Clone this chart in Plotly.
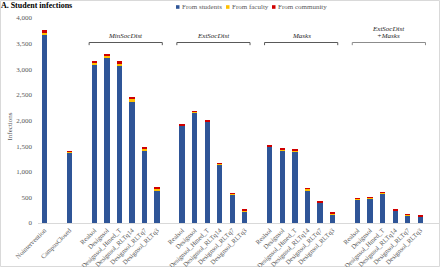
import plotly.graph_objects as go

# ---------------- data ----------------
singles = ["Nointervention", "CampusClosed"]
single_students = [3660, 1370]
single_faculty = [40, 10]
single_community = [60, 25]

policies = ["Realsol", "Designsol", "Designsol_Hmed_T",
            "Designsol_RLTq14", "Designsol_RLTq7", "Designsol_RLTq3"]
groups = ["MinSocDist", "ExtSocDist", "Masks", "ExtSocDist<br>+Masks"]

group_students = [
    [3080, 3220, 3060, 2370, 1405, 630],
    [1890, 2150, 1965, 1125, 545, 220],
    [1475, 1410, 1390, 630, 385, 155],
    [455, 470, 570, 228, 143, 112],
]
group_faculty = [
    [40, 45, 50, 40, 35, 30],
    [10, 15, 15, 20, 15, 15],
    [15, 15, 20, 25, 15, 20],
    [10, 10, 10, 10, 10, 10],
]
group_community = [
    [50, 40, 50, 45, 40, 45],
    [30, 20, 25, 30, 25, 30],
    [30, 30, 25, 35, 30, 40],
    [30, 30, 25, 30, 29, 35],
]

y_ticks = [0, 500, 1000, 1500, 2000, 2500, 3000, 3500, 4000]

# ---------------- build slots (gap slot between blocks) ----------------
xs, labels, stu, fac, com = [], [], [], [], []
slot = 0
for i, name in enumerate(singles):
    xs.append(slot); labels.append(name)
    stu.append(single_students[i]); fac.append(single_faculty[i]); com.append(single_community[i])
    slot += 2
group_spans = []
for g in range(len(groups)):
    start = slot
    for p, pol in enumerate(policies):
        xs.append(slot); labels.append(pol)
        stu.append(group_students[g][p]); fac.append(group_faculty[g][p]); com.append(group_community[g][p])
        slot += 1
    group_spans.append((start, slot - 1))
    slot += 1
n_slots = slot - 1

C_STU = "#2F5597"
C_FAC = "#FFC000"
C_COM = "#D00000"
font = "Liberation Serif"
grey = "#595959"

fig = go.Figure()
for name, vals, col in [("From students", stu, C_STU),
                        ("From faculty", fac, C_FAC),
                        ("From community", com, C_COM)]:
    fig.add_trace(go.Bar(x=xs, y=vals, name=name, marker=dict(color=col, line=dict(width=0)),
                         width=0.42, showlegend=False))

W, H = 440, 267
ml, mr, mt, mb = 38, 1, 18, 44
pw, ph = W - ml - mr, H - mt - mb

fig.update_layout(
    barmode="stack",
    width=W, height=H,
    margin=dict(l=ml, r=mr, t=mt, b=mb, autoexpand=False),
    paper_bgcolor="white", plot_bgcolor="white",
    font=dict(family=font, size=7, color=grey),
    title=dict(text="<b>A. Student infections</b>", x=0.002, xanchor="left", xref="container",
               y=1 - 5 / H, yanchor="middle", yref="container",
               font=dict(family=font, size=8, color="black")),
    xaxis=dict(range=[-0.5, n_slots + 0.5], tickmode="array", tickvals=xs, ticktext=labels,
               tickangle=-45, showgrid=False, zeroline=False, showline=True, automargin=False,
               linecolor="#D9D9D9", linewidth=1, ticks="",
               tickfont=dict(family=font, size=6.6, color=grey)),
    yaxis=dict(range=[0, 4000], tickvals=y_ticks, tickformat=",", showgrid=False,
               zeroline=False, showline=False, ticks="", ticklabelstandoff=5, automargin=False,
               tickfont=dict(family=font, size=7, color=grey)),
)

# y axis title
fig.add_annotation(text="Infections", xref="paper", yref="paper",
                   x=(9.5 - ml) / pw, y=(H - mb - 127) / ph, textangle=-90,
                   showarrow=False, xanchor="center", yanchor="middle",
                   font=dict(family=font, size=7, color=grey))

# group brackets and labels
br_y = 3522
tick_y = 3470
for g, (s, e) in enumerate(group_spans):
    x0, x1 = s - 0.42, e + 0.42
    col = "#595959" if g < 3 else "#8C8C8C"
    fig.add_shape(type="path", xref="x", yref="y",
                  path=f"M {x0} {tick_y} L {x0} {br_y} L {x1} {br_y} L {x1} {tick_y}",
                  line=dict(color=col, width=1))
    lines = groups[g].split("<br>")
    for k, line in enumerate(reversed(lines)):
        fig.add_annotation(text=f"<i>{line}</i>", x=(s + e) / 2, y=br_y + 20, yshift=7 * k,
                           xref="x", yref="y", showarrow=False, yanchor="bottom",
                           font=dict(family=font, size=7, color="#262626"),
                           borderpad=0)

# custom legend (squares + text)
leg_items = [("From students", C_STU, 176), ("From faculty", C_FAC, 226), ("From community", C_COM, 272)]
leg_y = 7
for txt, col, px in leg_items:
    fig.add_shape(type="rect", xref="paper", yref="paper",
                  x0=(px - ml) / pw, x1=(px + 3.5 - ml) / pw,
                  y0=(H - mb - leg_y - 1.8) / ph, y1=(H - mb - leg_y + 1.8) / ph,
                  fillcolor=col, line=dict(width=0))
    fig.add_annotation(text=txt, xref="paper", yref="paper",
                       x=(px + 5 - ml) / pw, y=(H - mb - leg_y) / ph,
                       showarrow=False, xanchor="left", yanchor="middle", borderpad=0,
                       font=dict(family=font, size=7, color=grey))

# chart border
fig.add_shape(type="rect", xref="paper", yref="paper",
              x0=(0.5 - ml) / pw, x1=(W - 0.5 - ml) / pw,
              y0=(H - mb - (H - 0.5)) / ph, y1=(H - mb - 0.5) / ph,
              line=dict(color="#D9D9D9", width=1), fillcolor="rgba(0,0,0,0)", layer="below")

fig.write_html("out.html", config={"displayModeBar": False, "staticPlot": True},
               post_script="document.body.style.margin='0';document.body.style.overflow='hidden';")
